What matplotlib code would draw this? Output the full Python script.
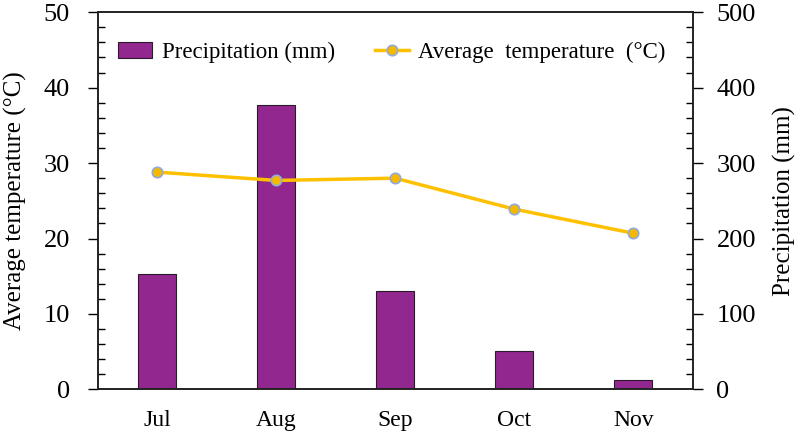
import matplotlib.pyplot as plt
from matplotlib.ticker import MultipleLocator

# data
months = ['Jul', 'Aug', 'Sep', 'Oct', 'Nov']
precip_mm = [153, 377, 130, 51, 13]
avg_temp = [28.8, 27.7, 28.0, 23.9, 20.7]

plt.rcParams['font.family'] = ['Liberation Serif', 'DejaVu Serif']

fig, ax = plt.subplots(figsize=(8, 4.37), dpi=100)
fig.subplots_adjust(left=0.122, right=0.866, top=0.972, bottom=0.109)
ax2 = ax.twinx()

x = range(len(months))

# precipitation bars on the right axis
bars = ax2.bar(x, precip_mm, width=0.32, color='#92278F', edgecolor='#2a1a2a',
               linewidth=0.8, label='Precipitation (mm)')

# temperature line on the left axis, drawn above the bars
ax.set_zorder(ax2.get_zorder() + 1)
ax.patch.set_visible(False)
line, = ax.plot(x, avg_temp, '-o', color='#FFC000', linewidth=2.5, markersize=7.5,
                markerfacecolor='#F5B800', markeredgecolor='#8FAADC', markeredgewidth=1.2,
                label='Average temperature (\u00b0C)')

ax.set_xlim(-0.5, 4.5)
ax.set_ylim(0, 50)
ax2.set_ylim(0, 500)
ax.set_xticks(list(x))
ax.set_xticklabels(months)
ax.yaxis.set_major_locator(MultipleLocator(10))
ax.yaxis.set_minor_locator(MultipleLocator(2))
ax2.yaxis.set_major_locator(MultipleLocator(100))
ax2.yaxis.set_minor_locator(MultipleLocator(20))

ax.tick_params(axis='x', length=0, labelsize=17, pad=15)
ax.tick_params(axis='y', which='major', direction='out', length=7, width=1,
               labelsize=19, pad=13)
ax.tick_params(axis='y', which='minor', direction='in', length=5, width=1)
ax2.tick_params(axis='y', which='major', direction='out', length=7, width=1,
                labelsize=19, pad=10)
ax2.tick_params(axis='y', which='minor', direction='in', length=5, width=1)

for a in (ax, ax2):
    for s in a.spines.values():
        s.set_linewidth(1.2)
        s.set_color('#222222')

ax.set_ylabel('Average temperature (\u00b0C)', fontsize=18, labelpad=12)
ax2.set_ylabel('Precipitation (mm)', fontsize=18, labelpad=12)

ax.legend([bars, line], ['Precipitation (mm)', 'Average  temperature  (\u00b0C)'],
          ncol=2, frameon=False, fontsize=16.5, loc='upper left',
          bbox_to_anchor=(0.019, 0.946), borderaxespad=0, columnspacing=1.75,
          handlelength=1.5, handletextpad=0.4)

plt.savefig('out.png', dpi=100)
